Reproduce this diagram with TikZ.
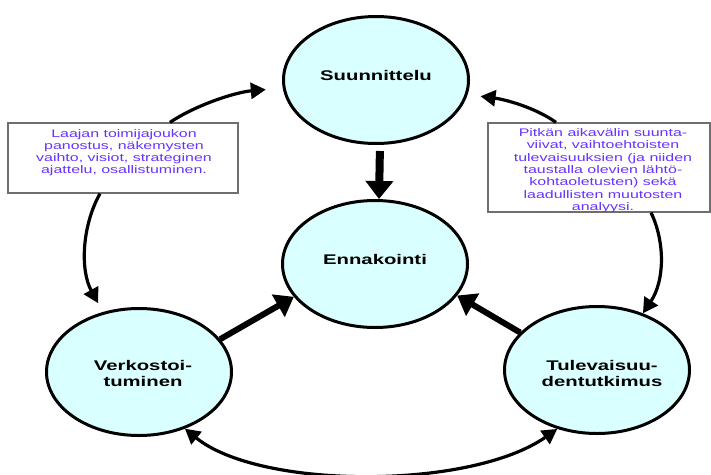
\documentclass[tikz,border=0pt]{standalone}
\usepackage{fontspec}
\setmainfont{Liberation Sans}
\usepackage{graphicx}
\usetikzlibrary{shapes.geometric,arrows.meta}
\definecolor{cfill}{RGB}{217,255,255}
\definecolor{ctext}{RGB}{102,51,255}
\definecolor{cbox}{RGB}{110,110,110}
\newcommand\hstretch[1]{\scalebox{1.45}[1]{#1}}
\newcommand\circtxt[1]{\hstretch{\fontsize{14}{16}\selectfont\bfseries\begin{tabular}{@{}c@{}}#1\end{tabular}}}
\newcommand\boxtxt[1]{\hstretch{\color{ctext}\fontsize{11}{12.3}\selectfont\begin{tabular}{@{}c@{}}#1\end{tabular}}}
\tikzset{
  Hd/.tip={Triangle[length=15pt,width=16pt]},
  Bh/.tip={Triangle[length=18pt,width=25pt]},
}
\begin{document}
\begin{tikzpicture}[x=1pt,y=-1pt,
  bubble/.style={ellipse, draw, line width=3pt, fill=cfill, minimum width=185pt, minimum height=127pt, inner sep=0pt},
  note/.style={draw=cbox, line width=1.2pt, fill=white, inner sep=0pt},
  lbl/.style={inner sep=0pt},
  bigarrow/.style={line width=6pt, -Bh},
  curvearrow/.style={line width=3.2pt, -Hd},
]
\useasboundingbox (0,0) rectangle (711,474);
% boxes
\node[note, minimum width=230pt, minimum height=70pt] (L) at (123,158) {};
\node[note, minimum width=222pt, minimum height=89pt] (R) at (599,167.5) {};
% bubbles
\node[bubble] (S) at (376,80) {};
\node[bubble] (E) at (375,264) {};
\node[bubble] (V) at (139,372) {};
\node[bubble] (T) at (597,370) {};
% labels
\node[lbl] (St) at (376,76.8) {\circtxt{Suunnittelu}};
\node[lbl] (Et) at (375,260.8) {\circtxt{Ennakointi}};
\node[lbl] (Vt) at (143,374.8) {\circtxt{Verkostoi-\\tuminen}};
\node[lbl] (Tt) at (602,374.8) {\circtxt{Tulevaisuu-\\dentutkimus}};
\node[lbl] (Lt) at (124,153) {\boxtxt{Laajan toimijajoukon\\panostus, näkemysten\\vaihto, visiot, strateginen\\ajattelu, osallistuminen.}};
\begin{scope}
\clip ([xshift=1pt,yshift=-1pt]R.north west) rectangle ([xshift=-1pt,yshift=1pt]R.south east);
\node[lbl] (Rt) at (603,171) {\boxtxt{Pitkän aikavälin suunta-\\viivat, vaihtoehtoisten\\tulevaisuuksien (ja niiden\\taustalla olevien lähtö-\\kohtaoletusten) sekä\\laadullisten muutosten\\analyysi.}};
\end{scope}
% curved arrows
\draw[curvearrow, shorten >=17pt] ([xshift=47pt]L.north) .. controls +(25,-17) and +(-47.5,4) .. (S.185);
\draw[curvearrow, shorten >=10pt] ([xshift=-23pt]L.south) .. controls +(-18,32) and +(-23,-42) .. (V.121);
\draw[curvearrow, shorten >=13pt] ([xshift=-43pt]R.north) .. controls +(-21,-15) and +(37.5,5) .. (S.351);
\draw[curvearrow] ([xshift=52pt]R.south) .. controls +(14,29) and +(22,-33) .. (T.51);
\draw[line width=3.2pt, Hd-Hd] (V.309) .. controls +(75,61) and +(-87,61) .. (T.236);
% thick arrows
\draw[line width=8pt, -{Triangle[length=18pt,width=27pt]}, shorten <=6pt] ([xshift=4pt]S.south) -- ([xshift=4pt]E.north);
\draw[bigarrow] (V.22) -- (E.202);
\draw[bigarrow] (T.154) -- (E.339);
\end{tikzpicture}
\end{document}
